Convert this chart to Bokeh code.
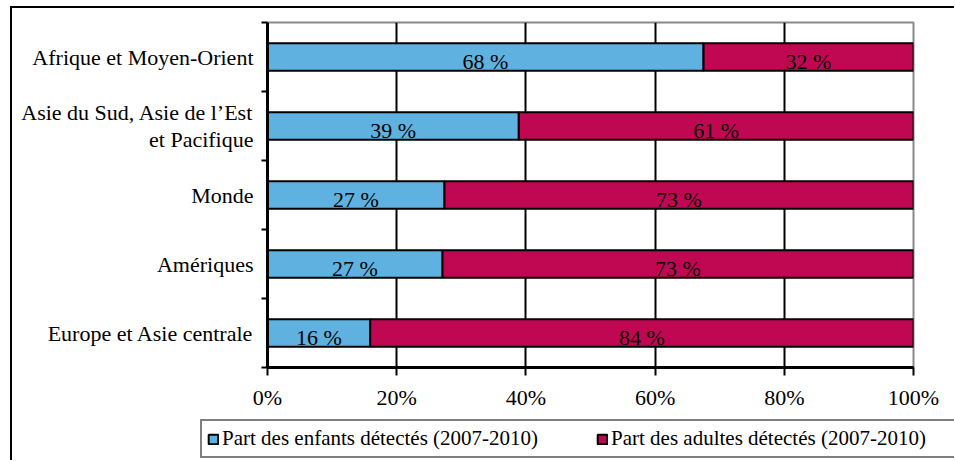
from bokeh.plotting import figure
from bokeh.layouts import column
from bokeh.models import ColumnDataSource, FixedTicker, Legend, LegendItem, Range1d
from bokeh.core.properties import value
from bokeh.embed import file_html
from bokeh.resources import INLINE

categories = ["Europe et Asie centrale", "Amériques", "Monde",
              "Asie du Sud, Asie de l’Est\net Pacifique", "Afrique et Moyen-Orient"]
children = [15.9, 27.1, 27.4, 38.9, 67.5]
adults = [84.1, 72.9, 72.6, 61.1, 32.5]
child_labels = ["16 %", "27 %", "27 %", "39 %", "68 %"]
adult_labels = ["84 %", "73 %", "73 %", "61 %", "32 %"]
series_names = ["Part des enfants détectés (2007-2010)",
                "Part des adultes détectés (2007-2010)"]
x_ticks = [0, 20, 40, 60, 80, 100]
x_tick_labels = ["0%", "20%", "40%", "60%", "80%", "100%"]

BLUE = "#5FB2E0"
RED = "#C00852"
FONT = "Liberation Serif"

n = len(categories)
pos = [i + 0.5 for i in range(n)]
edges = list(range(n + 1))

src = ColumnDataSource(dict(
    y=pos, children=children, adults=adults,
    cl=child_labels, al=adult_labels,
    cx=[c / 2 for c in children],
    ax=[c + a / 2 for c, a in zip(children, adults)],
))

W = 942
p = figure(width=W, height=410,
           x_range=Range1d(0, 100), y_range=Range1d(0, n),
           output_backend="svg", toolbar_location=None,
           min_border_left=255, min_border_right=41,
           min_border_top=14, min_border_bottom=51)
p.frame_align = False

rs = p.hbar_stack(["children", "adults"], y="y", height=0.4,
                  fill_color=[BLUE, RED], line_color="black", line_width=2,
                  source=src)

for xcol, tcol in (("cx", "cl"), ("ax", "al")):
    p.text(x=xcol, y="y", text=tcol, source=src,
           text_font=value(FONT), text_font_size="22px",
           text_align="center", text_baseline="middle", y_offset=4,
           text_color="black")

p.outline_line_color = "#8a8a8a"
p.outline_line_width = 2
p.ygrid.visible = False
p.xgrid.ticker = FixedTicker(ticks=x_ticks[1:-1])
p.xgrid.grid_line_color = "black"
p.xgrid.grid_line_width = 2

xa = p.xaxis[0]
xa.ticker = FixedTicker(ticks=x_ticks)
xa.major_label_overrides = {t: l for t, l in zip(x_ticks, x_tick_labels)}
xa.axis_line_width = 3
xa.axis_line_color = "black"
xa.major_tick_out = 8
xa.major_tick_in = 0
xa.major_tick_line_width = 2
xa.major_tick_line_color = "black"
xa.minor_tick_line_color = None
xa.major_label_standoff = 9
xa.major_label_text_font = FONT
xa.major_label_text_font_size = "22px"
xa.major_label_text_color = "black"

ya = p.yaxis[0]
ya.ticker = FixedTicker(ticks=pos, minor_ticks=edges)
ya.major_label_overrides = {t: c for t, c in zip(pos, categories)}
ya.axis_line_width = 3
ya.axis_line_color = "black"
ya.major_tick_line_color = None
ya.major_tick_out = 0
ya.major_tick_in = 0
ya.minor_tick_out = 6
ya.minor_tick_in = 0
ya.minor_tick_line_width = 2
ya.minor_tick_line_color = "black"
ya.major_label_standoff = 8
ya.major_label_text_font = FONT
ya.major_label_text_font_size = "22px"
ya.major_label_text_line_height = 1.1
ya.major_label_text_color = "black"

# legend strip (separate plot whose frame spans the full width)
p2 = figure(width=W, height=42, x_range=Range1d(0, 1), y_range=Range1d(0, 1),
            output_backend="svg", toolbar_location=None,
            x_axis_location=None, y_axis_location=None,
            min_border=0, min_border_left=0, min_border_right=0,
            min_border_top=0, min_border_bottom=0)
p2.frame_align = False
p2.outline_line_color = None
p2.grid.visible = False
offscreen = ColumnDataSource(dict(y=[-10], right=[0]))
lr = [p2.hbar(y="y", right="right", height=0.4, fill_color=c,
              line_color="black", line_width=2, source=offscreen)
      for c in (BLUE, RED)]

legend = Legend(items=[LegendItem(label=series_names[0], renderers=[lr[0]]),
                       LegendItem(label=series_names[1], renderers=[lr[1]])],
                location=(188, 2), orientation="horizontal",
                label_text_font=FONT, label_text_font_size="21px",
                label_text_color="black",
                glyph_width=12, glyph_height=12, label_standoff=3,
                label_width=340, spacing=34, padding=5, margin=0,
                border_line_color="black", border_line_width=2,
                background_fill_color="white", background_fill_alpha=1)
p2.add_layout(legend)

layout = column(p, p2, spacing=0)
layout.styles = {"margin-left": "10px", "margin-top": "6px",
                 "border-left": "2px solid black", "border-top": "2px solid black"}

open("out.html", "w").write(file_html(layout, INLINE))
